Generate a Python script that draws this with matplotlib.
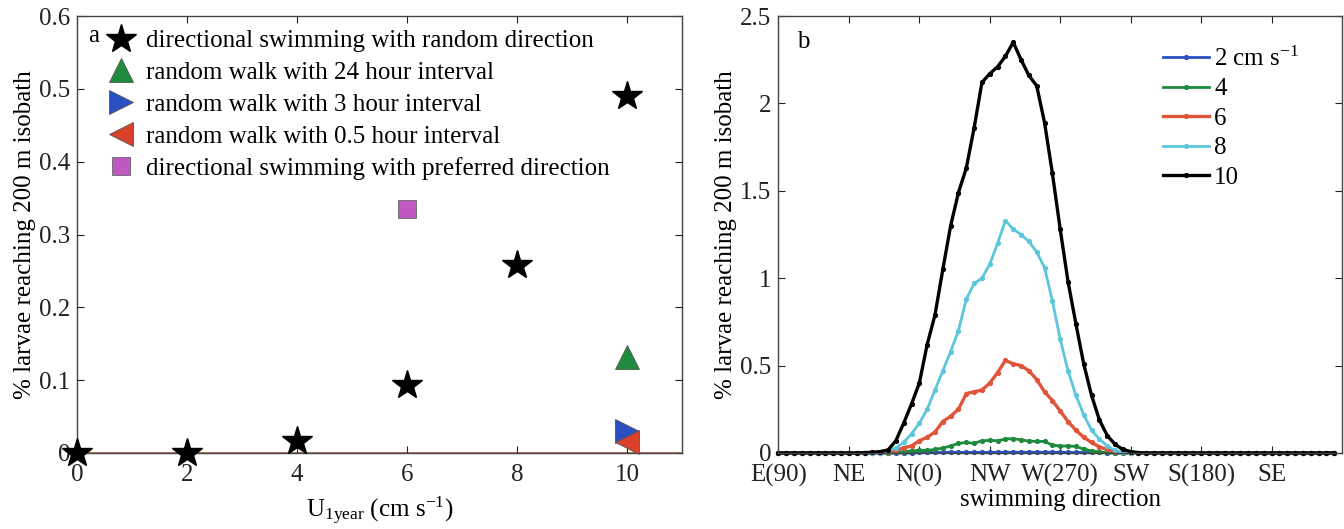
import numpy as np
import matplotlib
matplotlib.use('Agg')
import matplotlib.pyplot as plt

plt.rcParams['font.family'] = ['Liberation Serif', 'DejaVu Serif']
plt.rcParams['mathtext.fontset'] = 'custom'
plt.rcParams['mathtext.rm'] = 'Liberation Serif'
plt.rcParams['mathtext.it'] = 'Liberation Serif:italic'

# ------------------------------------------------------| Data
# panel a : % larvae reaching 200 m isobath vs swimming speed
u_star = [0, 2, 4, 6, 8, 10]
y_star = [0.0, 0.0, 0.016, 0.094, 0.258, 0.490]
u_rw24, y_rw24 = [10], [0.132]
u_rw3, y_rw3 = [10], [0.030]
u_rw05, y_rw05 = [10], [0.015]
u_pref, y_pref = [6], [0.335]

labels_a = ['directional swimming with random direction',
            'random walk with 24 hour interval',
            'random walk with 3 hour interval',
            'random walk with 0.5 hour interval',
            'directional swimming with preferred direction']

# panel b : swimming direction (every 5 deg, counter-clockwise from E)
direction = np.arange(0, 360, 5)
dir_ticks = [0, 45, 90, 135, 180, 225, 270, 315]
dir_labels = ['E(90)', 'NE', 'N(0)', 'NW', 'W(270)', 'SW', 'S(180)', 'SE']

v2 = [0, 0, 0, 0, 0, 0, 0, 0, 0, 0, 0, 0, 0, 0, 0, 0, 0, 0,
      0.003, 0.003, 0.003, 0.003, 0.003, 0.003, 0.003, 0.003, 0.003, 0.003,
      0.004, 0.004, 0.004, 0.004, 0.004, 0.004, 0.004, 0.004, 0.004, 0.003,
      0.003, 0.003, 0.003, 0.003, 0.002,
      0, 0, 0, 0, 0, 0, 0, 0, 0, 0, 0, 0, 0, 0, 0, 0, 0, 0, 0, 0, 0, 0, 0, 0, 0, 0, 0, 0, 0]
v4 = [0, 0, 0, 0, 0, 0, 0, 0, 0, 0, 0, 0, 0, 0, 0,
      0.003, 0.008, 0.012, 0.015, 0.015, 0.02, 0.028, 0.04, 0.055, 0.06,
      0.055, 0.07, 0.072, 0.07, 0.08, 0.082, 0.075, 0.068, 0.066, 0.066,
      0.045, 0.04, 0.04, 0.038, 0.022, 0.012, 0.006, 0.003,
      0, 0, 0, 0, 0, 0, 0, 0, 0, 0, 0, 0, 0, 0, 0, 0, 0, 0, 0, 0, 0, 0, 0, 0, 0, 0, 0, 0, 0]
v6 = [0, 0, 0, 0, 0, 0, 0, 0, 0, 0, 0, 0, 0,
      0.002, 0.005, 0.015, 0.03, 0.04, 0.07, 0.09, 0.12, 0.18, 0.21, 0.25,
      0.34, 0.35, 0.36, 0.40, 0.46, 0.53, 0.51, 0.50, 0.47, 0.42, 0.35,
      0.30, 0.24, 0.18, 0.13, 0.09, 0.06, 0.035, 0.02, 0.008, 0.003,
      0, 0, 0, 0, 0, 0, 0, 0, 0, 0, 0, 0, 0, 0, 0, 0, 0, 0, 0, 0, 0, 0, 0, 0, 0, 0, 0]
v8 = [0, 0, 0, 0, 0, 0, 0, 0, 0, 0, 0, 0, 0,
      0.002, 0.01, 0.03, 0.06, 0.11, 0.17, 0.25, 0.36, 0.47, 0.58, 0.70,
      0.88, 0.97, 1.00, 1.08, 1.20, 1.33, 1.28, 1.25, 1.21, 1.15, 1.06,
      0.87, 0.65, 0.47, 0.33, 0.22, 0.13, 0.08, 0.04, 0.015, 0.003,
      0, 0, 0, 0, 0, 0, 0, 0, 0, 0, 0, 0, 0, 0, 0, 0, 0, 0, 0, 0, 0, 0, 0, 0, 0, 0, 0]
v10 = [0, 0, 0, 0, 0, 0, 0, 0, 0, 0, 0,
       0.002, 0.004, 0.008, 0.017, 0.07, 0.17, 0.28, 0.40, 0.62, 0.79, 1.05,
       1.30, 1.49, 1.63, 1.86, 2.12, 2.17, 2.21, 2.27, 2.35, 2.25, 2.16, 2.10,
       1.89, 1.60, 1.28, 0.98, 0.74, 0.51, 0.33, 0.19, 0.10, 0.05, 0.02,
       0.008, 0.002,
       0, 0, 0, 0, 0, 0, 0, 0, 0, 0, 0, 0, 0, 0, 0, 0, 0, 0, 0, 0, 0, 0, 0, 0, 0]

speeds_b = ['2 cm s$^{-1}$', '4', '6', '8', '10']
colors_b = ['#2b50c0', '#1d8a3e', '#e0553a', '#5cc6dc', '#000000']

# ------------------------------------------------------| Plotting
fig = plt.figure(figsize=(13.44, 5.29), dpi=100)
axa = fig.add_axes([0.0573, 0.1437, 0.4501, 0.826])
axb = fig.add_axes([0.5792, 0.1437, 0.4193, 0.826])

fs = 18
for ax in (axa, axb):
    ax.tick_params(direction='in', top=True, right=True, length=5,
                   labelsize=fs, colors='#222222', pad=5)
    ax.tick_params(axis='x', pad=8)
    for s in ax.spines.values():
        s.set_color('#444444')
        s.set_linewidth(1.0)

# panel a
axa.axhline(0, color='#c0653a', lw=1.2, zorder=1)
h1, = axa.plot(u_star, y_star, linestyle='none', marker='*', ms=22,
               color='black', zorder=3, clip_on=False)
h2, = axa.plot(u_rw24, y_rw24, linestyle='none', marker='^', ms=17,
               mfc='#1e8c3c', mec='#555555', mew=0.6, zorder=3)
h3, = axa.plot(u_rw3, y_rw3, linestyle='none', marker='>', ms=17,
               mfc='#2b4fc0', mec='#555555', mew=0.6, zorder=3)
h4, = axa.plot(u_rw05, y_rw05, linestyle='none', marker='<', ms=17,
               mfc='#d9412b', mec='#555555', mew=0.6, zorder=4,
               clip_on=False)
h5, = axa.plot(u_pref, y_pref, linestyle='none', marker='s', ms=13,
               mfc='#c157c1', mec='#666666', mew=0.6, zorder=3)
axa.set_xlim(0, 11)
axa.set_ylim(0, 0.6)
axa.set_xticks([0, 2, 4, 6, 8, 10])
axa.set_yticks([0, 0.1, 0.2, 0.3, 0.4, 0.5, 0.6])
axa.set_yticklabels(['0', '0.1', '0.2', '0.3', '0.4', '0.5', '0.6'])
axa.set_xlabel(r'U$_{\mathrm{1year}}$ (cm s$^{-1}$)', fontsize=fs, labelpad=6)
axa.set_ylabel('% larvae reaching 200 m isobath', fontsize=fs, labelpad=2)
axa.legend([h1, h2, h3, h4, h5], labels_a, loc='upper left',
           bbox_to_anchor=(0.025, 1.0), frameon=False, fontsize=fs,
           handlelength=1.2, handletextpad=0.4, labelspacing=0.37,
           borderaxespad=0.15)
axa.text(0.019, 0.955, 'a', transform=axa.transAxes, fontsize=fs,
         ha='left', va='center')

# panel b
for vals, col, lab in zip([v2, v4, v6, v8, v10], colors_b, speeds_b):
    lw = 2.4 if col in ('#000000', '#e0553a') else 2.0
    axb.plot(direction, vals, color=col, lw=lw, marker='.', ms=5.5,
             label=lab, clip_on=False)
axb.set_xlim(0, 360)
axb.set_ylim(0, 2.5)
axb.set_xticks(dir_ticks)
axb.set_xticklabels(dir_labels)
axb.set_yticks([0, 0.5, 1, 1.5, 2, 2.5])
axb.set_yticklabels(['0', '0.5', '1', '1.5', '2', '2.5'])
axb.set_xlabel('swimming direction', fontsize=fs, labelpad=1)
axb.set_ylabel('% larvae reaching 200 m isobath', fontsize=fs, labelpad=2)
axb.legend(loc='upper right', bbox_to_anchor=(0.955, 0.97), frameon=False,
           fontsize=fs, handlelength=1.85, handletextpad=0.2,
           labelspacing=0.28, borderaxespad=0.3)
axb.text(0.033, 0.94, 'b', transform=axb.transAxes, fontsize=fs,
         ha='left', va='center')

fig.savefig('out.png', dpi=100)
